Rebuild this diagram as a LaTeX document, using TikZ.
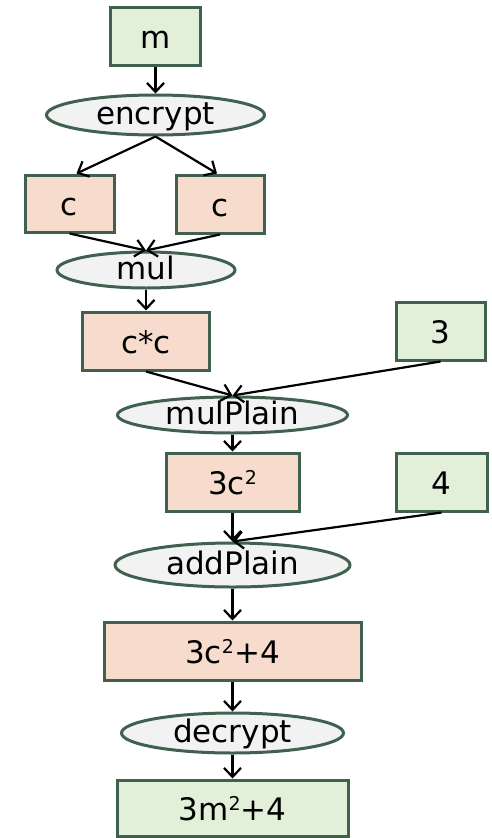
\documentclass[tikz,border=0pt]{standalone}
\usepackage{fontspec}
\setmainfont{DejaVu Sans}
\usetikzlibrary{shapes.geometric,arrows.meta}

\definecolor{edgegreen}{HTML}{41614F}
\definecolor{plainfill}{HTML}{E2EFD9}
\definecolor{cipherfill}{HTML}{F7DCCD}
\definecolor{opfill}{HTML}{F2F2F2}

% raised exponent, about 60% of the body size
\newcommand{\expo}[1]{\raisebox{9.5pt}{\fontsize{19}{19}\selectfont #1}}

\tikzset{
  box/.style={draw=edgegreen, line width=3pt, rectangle, inner sep=0pt,
    text height=24pt, text depth=0pt,
    font=\fontsize{31}{31}\selectfont},
  plainbox/.style={box, fill=plainfill},
  cipherbox/.style={box, fill=cipherfill},
  op/.style={draw=edgegreen, line width=3pt, ellipse, fill=opfill, inner sep=0pt,
    text height=19pt, text depth=0pt,
    font=\fontsize{31}{31}\selectfont},
  flow/.style={line width=2.2pt, -{Straight Barb[length=9pt,width=17pt,line width=2.2pt]}}
}

\begin{document}
\begin{tikzpicture}[x=1pt, y=-1pt]
  \useasboundingbox (0,0) rectangle (492,838);

  % inputs, ciphertexts and operations
  \node[plainbox, minimum width=90pt, minimum height=58pt] (m) at (155.5,36) {m};
  \node[op, minimum width=218pt, minimum height=40pt] (enc) at (155.5,115) {encrypt};
  \node[cipherbox, minimum width=89pt, minimum height=57pt] (cl) at (69.5,203.5) {c};
  \node[cipherbox, minimum width=88pt, minimum height=58pt] (cr) at (220,204) {c};
  \node[op, minimum width=178pt, minimum height=36pt] (mul) at (146,270) {mul};
  \node[cipherbox, minimum width=127pt, minimum height=58pt] (cc) at (146,341) {c*c};
  \node[plainbox, minimum width=89pt, minimum height=58pt] (three) at (440.5,331) {3};
  \node[op, minimum width=230pt, minimum height=36pt] (mp) at (232.5,415) {mulPlain};
  \node[cipherbox, minimum width=133pt, minimum height=58pt] (c2) at (232.5,482) {3c\expo{2}};
  \node[plainbox, minimum width=91pt, minimum height=58pt] (four) at (441.5,482) {4};
  \node[op, minimum width=235pt, minimum height=44pt] (ap) at (232.5,565) {addPlain};
  \node[cipherbox, minimum width=257pt, minimum height=58pt] (c24) at (232.5,651) {3c\expo{2}+4};
  \node[op, minimum width=222pt, minimum height=40pt] (dec) at (232.5,733) {decrypt};
  \node[plainbox, minimum width=231pt, minimum height=56pt] (res) at (232.5,808) {3m\expo{2}+4};

  % data flow
  \draw[flow] (m) -- (enc);
  \draw[flow] (enc.south) -- ([xshift=7pt]cl.north);
  \draw[flow] (enc.south) -- ([xshift=-3pt]cr.north);
  \draw[flow] (cl.south) -- (mul.north);
  \draw[flow] (cr.south) -- (mul.north);
  \draw[flow] (mul) -- (cc);
  \draw[flow] (cc.south) -- (mp.north);
  \draw[flow] (three.south) -- (mp.north);
  \draw[flow] (mp) -- (c2);
  \draw[flow] (c2) -- (ap);
  \draw[flow] (four.south) -- (ap.north);
  \draw[flow] (ap) -- (c24);
  \draw[flow] (c24) -- (dec);
  \draw[flow] (dec) -- (res);
\end{tikzpicture}
\end{document}
